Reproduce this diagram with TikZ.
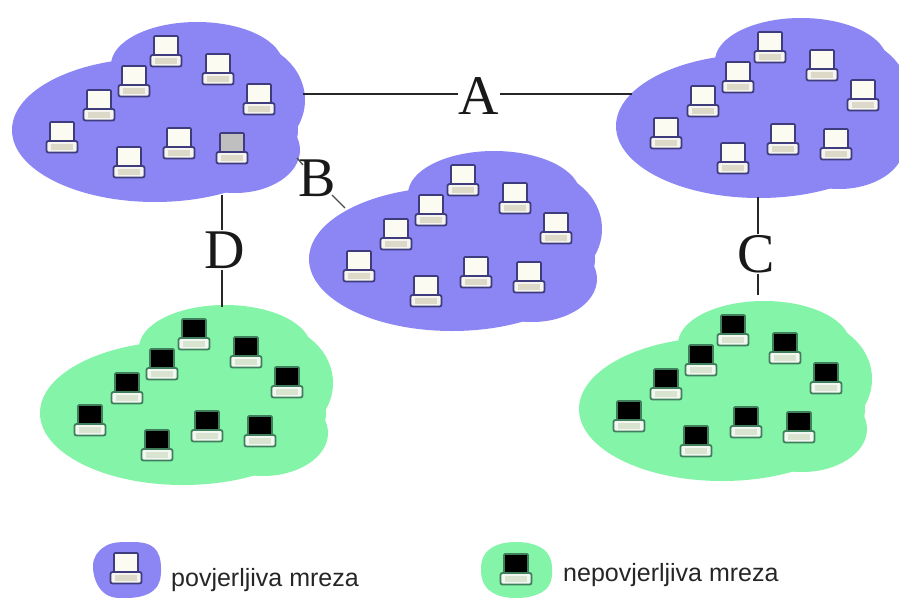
\documentclass[tikz,border=0pt]{standalone}
\usepackage{fontspec}
\setmainfont{Liberation Sans}
\newfontfamily\bigfont{Liberation Serif}
\definecolor{trustfill}{HTML}{8C86F5}
\definecolor{trustline}{HTML}{3E3C7C}
\definecolor{trustscreen}{HTML}{FCFBF2}
\definecolor{trustbar}{HTML}{DDD9C8}
\definecolor{untrustfill}{HTML}{84F4A8}
\definecolor{untrustline}{HTML}{3F7F5C}
\definecolor{untrustbar}{HTML}{D8E4D0}
\tikzset{
  netlabel/.style={font=\bigfont\fontsize{56}{56}\selectfont,inner sep=1pt,text=black!90},
  legendtext/.style={font=\fontsize{25}{25}\selectfont,anchor=base west,inner sep=0pt,text=black!85},
  link/.style={draw=black!85,line width=2.4pt},
  linkthin/.style={draw=black!70,line width=1.3pt},
}
% computer: #1 x, #2 y (screen centre), #3 outline, #4 screen, #5 bar
\newcommand{\pcicon}[5]{%
  \begin{scope}[shift={(#1,#2)}]
    \fill[#4,draw=#3,line width=1.6pt,rounded corners=1pt] (-12,-10) rectangle (12,9);
    \fill[white!70!#5,draw=#3,line width=1.8pt,rounded corners=2pt] (-15.5,9) rectangle (15.5,20.5);
    \fill[#5] (-11,12) rectangle (11,17.5);
  \end{scope}}
% network cloud: #1 #2 offset, #3 fill, #4 outline, #5 screen, #6 bar
\newcommand{\netcloud}[6]{%
  \begin{scope}[shift={(#1,#2)}]
    \fill[#3] (155,130) ellipse [x radius=143,y radius=72];
    \fill[#3] (197,65) ellipse [x radius=86,y radius=43];
    \fill[#3] (235,100) ellipse [x radius=70,y radius=60];
    \fill[#3] (235,150) ellipse [x radius=65,y radius=43];
    \foreach \cx/\cy in {62/132,99/100,134/76,166/46,218/64,259/94,129/157,179/138,232/143}
      {\pcicon{\cx}{\cy}{#4}{#5}{#6}}
  \end{scope}}
\begin{document}
\begin{tikzpicture}[x=1pt,y=-1pt]
\useasboundingbox[fill=white] (0,0) rectangle (899,597);
\netcloud{0}{0}{trustfill}{trustline}{trustscreen}{trustbar}
\fill[black!25] (221,134) rectangle (243,151);
\netcloud{297}{129}{trustfill}{trustline}{trustscreen}{trustbar}
\netcloud{604}{-4}{trustfill}{trustline}{trustscreen}{trustbar}
\netcloud{28}{283}{untrustfill}{untrustline}{black}{untrustbar}
\netcloud{567}{279}{untrustfill}{untrustline}{black}{untrustbar}
\coordinate (aw) at (303,94);
\coordinate (ae) at (632,94);
\coordinate (bn) at (297,158);
\coordinate (bt) at (303,165);
\coordinate (bb) at (332,195);
\coordinate (bs) at (345,208);
\coordinate (dn) at (222,195);
\coordinate (ds) at (222,307);
\coordinate (cn) at (758,197);
\coordinate (cs) at (758,295);
\node[netlabel] (A) at (479,96) {A};
\node[netlabel] (B) at (317,178) {B};
\node[netlabel] (C) at (756,254) {C};
\node[netlabel] (D) at (225,250) {D};
\draw[link] (aw) -- (aw -| A.west);
\draw[link] (ae) -- (ae -| A.east);
\draw[linkthin] (bn) -- (bt);
\draw[linkthin] (bb) -- (bs);
\draw[link] (dn) -- (dn |- D.north);
\draw[link] (ds) -- (ds |- D.south);
\draw[link] (cn) -- (cn |- C.north);
\draw[link] (cs) -- (cs |- C.south);
\fill[trustfill] plot[smooth cycle,tension=0.7] coordinates {(93,566) (104,547) (128,542) (153,547) (161,568) (154,590) (128,598) (103,592)};
\fill[untrustfill] plot[smooth cycle,tension=0.7] coordinates {(481,568) (490,549) (516,542) (543,549) (552,568) (545,590) (516,598) (489,590)};
\pcicon{126}{563}{trustline}{trustscreen}{trustbar}
\pcicon{516}{564}{untrustline}{black}{untrustbar}
\node[legendtext] (tl) at (171,586) {povjerljiva mreza};
\node[legendtext] (ul) at (563,581) {nepovjerljiva mreza};
\end{tikzpicture}
\end{document}
